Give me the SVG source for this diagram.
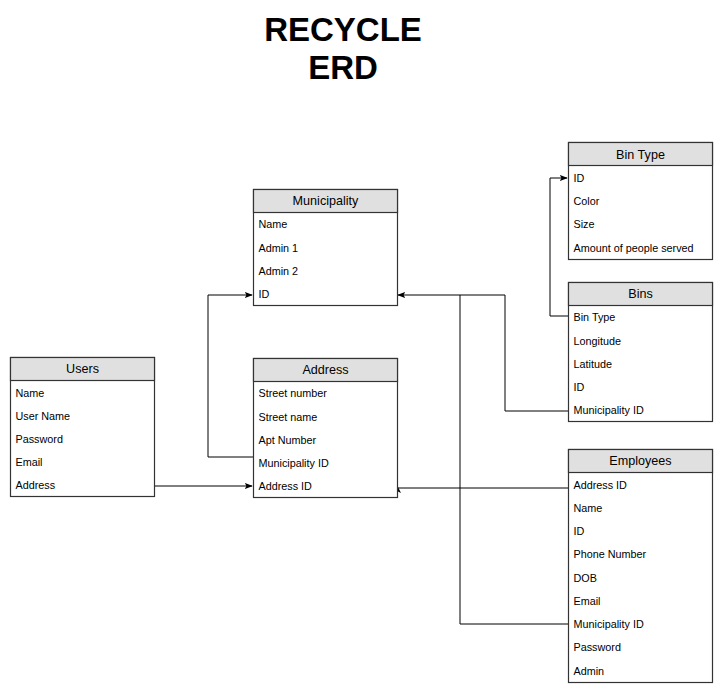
<svg xmlns="http://www.w3.org/2000/svg" width="723" height="695" viewBox="0 0 723 695">
<defs>
<marker id="arr" viewBox="0 0 10 10" refX="9" refY="5" markerWidth="8" markerHeight="8" markerUnits="userSpaceOnUse" orient="auto">
<path d="M0,1 L10,5 L0,9 L2,5 Z" fill="#000"/>
</marker>
<style>
.box{fill:#fff;stroke:#333;stroke-width:1.2}
.hdr{fill:#e0e0e0;stroke:#333;stroke-width:1.2}
.ht{font-family:"Liberation Sans",Arial,sans-serif;font-size:12.6px;text-anchor:middle;fill:#000}
.rt{font-family:"Liberation Sans",Arial,sans-serif;font-size:10.8px;fill:#000}
.title{font-family:"Liberation Sans",Arial,sans-serif;font-size:33px;font-weight:bold;text-anchor:middle;fill:#000}
.con{fill:none;stroke:#000;stroke-width:1}
</style>
</defs>
<rect width="723" height="695" fill="#fff"/>
<text class="title" x="343" y="41">RECYCLE</text>
<text class="title" x="343" y="79">ERD</text>

<g id="connectors">
<path class="con" d="M253,457 H208 V295 H252" marker-end="url(#arr)"/>
<path class="con" d="M568,411 H505 V295 H398" marker-end="url(#arr)"/>
<path class="con" d="M568,624 H460 V295"/>
<path class="con" d="M154,486 H252" marker-end="url(#arr)"/>
<path class="con" d="M568,488 H397"/>
<path d="M393,493 L397,485 L401,493 L397,491 Z" fill="#000"/>
<path class="con" d="M568,316 H550 V178 H567" marker-end="url(#arr)"/>
</g>

<g id="municipality">
<rect class="box" x="253.5" y="189.5" width="144" height="116"/>
<rect class="hdr" x="253.5" y="189.5" width="144" height="23"/>
<text class="ht" x="325.5" y="205">Municipality</text>
<text class="rt" x="258.5" y="228">Name</text>
<text class="rt" x="258.5" y="252">Admin 1</text>
<text class="rt" x="258.5" y="275">Admin 2</text>
<text class="rt" x="258.5" y="298">ID</text>
</g>

<g id="address">
<rect class="box" x="253.5" y="358.5" width="144" height="139"/>
<rect class="hdr" x="253.5" y="358.5" width="144" height="23"/>
<text class="ht" x="325.5" y="374">Address</text>
<text class="rt" x="258.5" y="397">Street number</text>
<text class="rt" x="258.5" y="421">Street name</text>
<text class="rt" x="258.5" y="444">Apt Number</text>
<text class="rt" x="258.5" y="467">Municipality ID</text>
<text class="rt" x="258.5" y="490">Address ID</text>
</g>

<g id="users">
<rect class="box" x="10.5" y="357.5" width="144" height="139"/>
<rect class="hdr" x="10.5" y="357.5" width="144" height="23"/>
<text class="ht" x="82.5" y="373">Users</text>
<text class="rt" x="15.5" y="397">Name</text>
<text class="rt" x="15.5" y="420">User Name</text>
<text class="rt" x="15.5" y="443">Password</text>
<text class="rt" x="15.5" y="466">Email</text>
<text class="rt" x="15.5" y="489">Address</text>
</g>

<g id="bintype">
<rect class="box" x="568.5" y="142.5" width="144" height="117"/>
<rect class="hdr" x="568.5" y="142.5" width="144" height="23"/>
<text class="ht" x="640.5" y="159">Bin Type</text>
<text class="rt" x="573.5" y="182">ID</text>
<text class="rt" x="573.5" y="205">Color</text>
<text class="rt" x="573.5" y="228">Size</text>
<text class="rt" x="573.5" y="252">Amount of people served</text>
</g>

<g id="bins">
<rect class="box" x="568.5" y="282.5" width="144" height="139"/>
<rect class="hdr" x="568.5" y="282.5" width="144" height="23"/>
<text class="ht" x="640.5" y="298">Bins</text>
<text class="rt" x="573.5" y="321">Bin Type</text>
<text class="rt" x="573.5" y="345">Longitude</text>
<text class="rt" x="573.5" y="368">Latitude</text>
<text class="rt" x="573.5" y="391">ID</text>
<text class="rt" x="573.5" y="414">Municipality ID</text>
</g>

<g id="employees">
<rect class="box" x="568.5" y="449.5" width="144" height="233"/>
<rect class="hdr" x="568.5" y="449.5" width="144" height="23"/>
<text class="ht" x="640.5" y="465">Employees</text>
<text class="rt" x="573.5" y="489">Address ID</text>
<text class="rt" x="573.5" y="512">Name</text>
<text class="rt" x="573.5" y="535">ID</text>
<text class="rt" x="573.5" y="558">Phone Number</text>
<text class="rt" x="573.5" y="582">DOB</text>
<text class="rt" x="573.5" y="605">Email</text>
<text class="rt" x="573.5" y="628">Municipality ID</text>
<text class="rt" x="573.5" y="651">Password</text>
<text class="rt" x="573.5" y="675">Admin</text>
</g>
</svg>
